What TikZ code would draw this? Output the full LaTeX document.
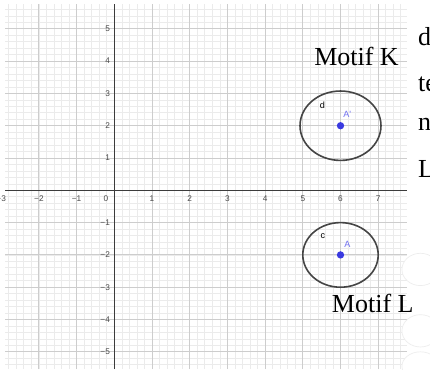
\documentclass[tikz,border=0pt]{standalone}
\usepackage{fontspec}
\setmainfont{Liberation Serif}
\newfontfamily\axfont{Liberation Sans}
\definecolor{minorgrid}{HTML}{EBEBEB}
\definecolor{majorgrid}{HTML}{CDCDCD}
\definecolor{axiscol}{HTML}{3C3C3C}
\definecolor{ticklab}{HTML}{4A4A4A}
\definecolor{ptblue}{HTML}{3A3AE0}
\definecolor{lblblue}{HTML}{7070F0}
\definecolor{circcol}{HTML}{454545}
\begin{document}
\begin{tikzpicture}[x=28.275pt,y=24.225pt,
  minorline/.style={draw=minorgrid,line width=0.5pt},
  majorline/.style={draw=majorgrid,line width=0.7pt},
  axisline/.style={draw=axiscol,line width=0.9pt},
  ticklabel/.style={font=\axfont\fontsize{6.2}{7}\selectfont,text=ticklab,inner sep=0pt},
  circline/.style={draw=circcol,line width=1.2pt},
  ptdot/.style={circle,fill=ptblue,inner sep=0pt,minimum size=5.5pt},
  objlabel/.style={font=\axfont\fontsize{6.8}{7}\selectfont,inner sep=0pt},
  bigtext/.style={font=\fontsize{19.5}{22}\selectfont,inner sep=0pt,anchor=base west},
  faint/.style={draw=black!7,fill=white,line width=0.5pt}]
\useasboundingbox (-3.032,-5.533) rectangle (8.374,5.892);
\fill[white] (-3.032,-5.533) rectangle (8.374,5.892);
\clip (-3.032,-5.533) rectangle (8.374,5.892);
% grid
\coordinate (gl) at (-2.899,0);
\coordinate (gr) at (7.764,0);
\coordinate (gt) at (0,5.768);
\coordinate (gb) at (0,-5.533);
\foreach \i in {-14,...,38} {
  \draw[minorline] (\i*0.2,-5.533) -- (\i*0.2,5.768);
}
\foreach \j in {-27,...,28} {
  \draw[minorline] (-2.899,\j*0.2) -- (7.764,\j*0.2);
}
\foreach \i in {-2,...,7} {
  \draw[majorline] (\i,-5.533) -- (\i,5.768);
}
\foreach \j in {-5,...,5} {
  \draw[majorline] (-2.899,\j) -- (7.764,\j);
}
% axes
\draw[axisline] (gl) -- (gr);
\draw[axisline] (gb) -- (gt);
% tick labels
\foreach \i/\t in {-3/−3,-2/−2,-1/−1,1/1,2/2,3/3,4/4,5/5,6/6,7/7} {
  \node[ticklabel] (xl\i) at (\i,-0.25) {\t};
}
\node[ticklabel] (x0) at (-0.22,-0.25) {0};
\foreach \j/\t in {-5/−5,-4/−4,-3/−3,-2/−2,-1/−1,1/1,2/2,3/3,4/4,5/5} {
  \node[ticklabel,anchor=east] (yl\j) at (-0.11,\j) {\t};
}
% circles
\draw[circline] (6,2) ellipse [x radius=1.074,y radius=1.074];
\draw[circline] (6,-2) ellipse [x radius=1,y radius=1];
\node[ptdot] (Ap) at (6,2) {};
\node[ptdot] (A) at (6,-2) {};
\node[objlabel] (dl) at (5.517,2.641) {d};
\node[objlabel,text=lblblue] (Apl) at (6.18,2.34) {A'};
\node[objlabel] (cl) at (5.536,-1.415) {c};
\node[objlabel,text=lblblue] (Al) at (6.18,-1.66) {A};
% faint shapes
\draw[faint] (8.12,-2.45) ellipse [x radius=0.49,y radius=0.5];
\draw[faint] (8.12,-4.35) ellipse [x radius=0.49,y radius=0.5];
\draw[faint] (8.12,-5.45) ellipse [x radius=0.49,y radius=0.45];
% texts
\node[bigtext] (mk) at (5.297,3.879) {Motif K};
\node[bigtext] (ml) at (5.767,-3.789) {Motif L};
\node[bigtext] (r1) at (8.051,4.498) {d};
\node[bigtext] (r2) at (8.051,3.059) {te};
\node[bigtext] (r3) at (8.051,1.851) {n};
\node[bigtext] (r4) at (8.051,0.412) {L};
\end{tikzpicture}
\end{document}
